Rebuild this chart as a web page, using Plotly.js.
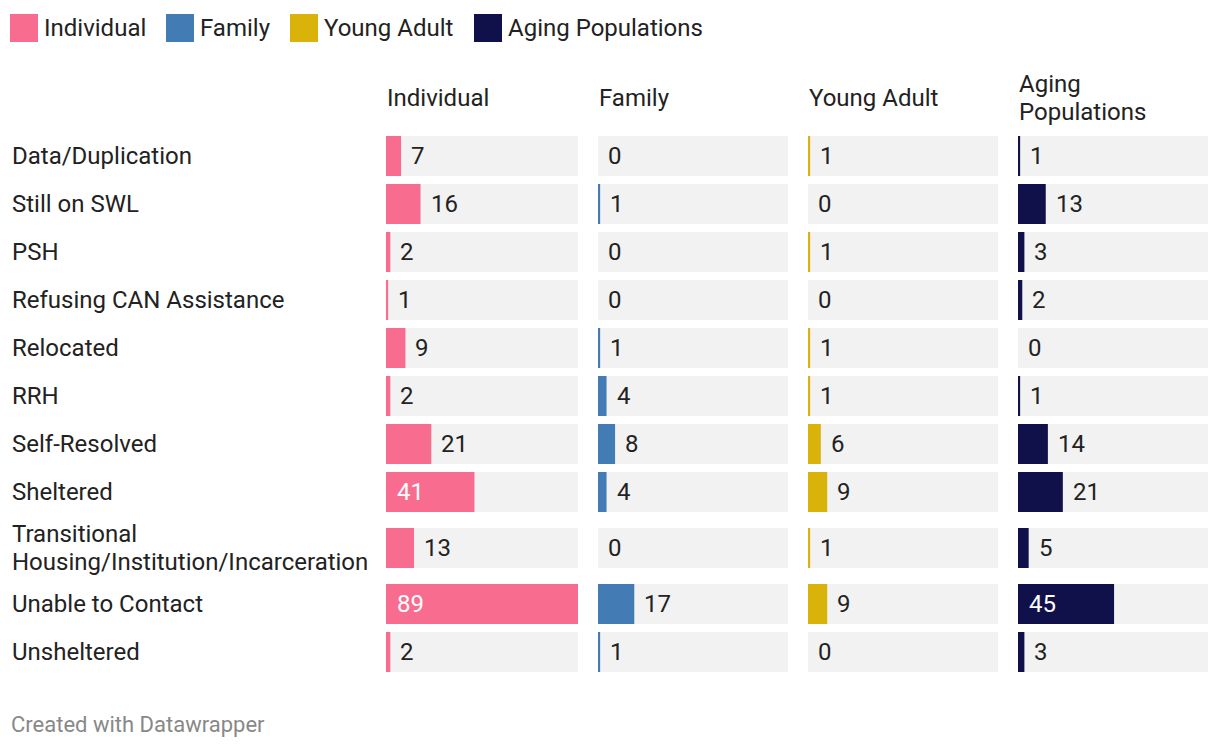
<!DOCTYPE html>
<html>
<head>
<meta charset="utf-8">
<script src="https://cdn.plot.ly/plotly-3.0.1.min.js"></script>
<style>
  html, body { margin: 0; padding: 0; background: #ffffff; }
  #chart { width: 1220px; height: 750px; }
</style>
</head>
<body>
<div id="chart"></div>
<script>
// ---------- data ----------
const categories = [
  "Data/Duplication",
  "Still on SWL",
  "PSH",
  "Refusing CAN Assistance",
  "Relocated",
  "RRH",
  "Self-Resolved",
  "Sheltered",
  "Transitional<br>Housing/Institution/Incarceration",
  "Unable to Contact",
  "Unsheltered"
];
const individual = [7, 16, 2, 1, 9, 2, 21, 41, 13, 89, 2];
const family     = [0, 1, 0, 0, 1, 4, 8, 4, 0, 17, 1];
const youngAdult = [1, 0, 1, 0, 1, 1, 6, 9, 1, 9, 0];
const aging      = [1, 13, 3, 2, 0, 1, 14, 21, 5, 45, 3];
const seriesNames  = ["Individual", "Family", "Young Adult", "Aging Populations"];
const columnTitles = ["Individual", "Family", "Young Adult", "Aging<br>Populations"];
const footerText = "Created with Datawrapper";

// ---------- styling / layout ----------
const W = 1220, H = 750;
const FONT = "Roboto, 'Open Sans', sans-serif";
const TEXT = "#222222";
const FS = 24;
const LINE = 28;
const colors = ["#f86d8f", "#437cb4", "#d9b20a", "#10104a"];
const bgColor = "#f2f2f2";
const series = [individual, family, youngAdult, aging];
const maxVal = Math.max(...series.flat());

const colLeft  = [386, 598, 808, 1018];
const colRight = [578, 788, 998, 1208];
const rowPitch = 48, barH = 40, extraPerLine = 16;
const plotTop = 132;

// row centres following the rule: taller slot for multi-line labels
const centers = [];
let cursor = 0;
categories.forEach(c => {
  const lines = c.split("<br>").length;
  const slot = rowPitch + (lines - 1) * extraPerLine;
  centers.push(cursor + slot / 2);
  cursor += slot;
});
const total = cursor;
const plotBottom = plotTop + total;

const traces = [];
const annotations = [];
const shapes = [];
const layout = {
  width: W, height: H,
  margin: {l: 0, r: 0, t: 0, b: 0},
  paper_bgcolor: "#ffffff",
  plot_bgcolor: "#ffffff",
  showlegend: false,
  barmode: "overlay",
  font: {family: FONT, color: TEXT, size: FS},
  yaxis: {
    domain: [1 - plotBottom / H, 1 - plotTop / H],
    range: [total, 0],
    visible: false, fixedrange: true
  }
};

// multi-line text as separate lines with fixed line spacing
function addLines(base, text) {
  const lines = text.split("<br>");
  lines.forEach((ln, k) => {
    annotations.push(Object.assign({}, base, {
      text: ln,
      yshift: -(k - (lines.length - 1) / 2) * LINE
    }));
  });
}

series.forEach((vals, i) => {
  const s = i === 0 ? "" : String(i + 1);
  layout["xaxis" + s] = {
    domain: [colLeft[i] / W, colRight[i] / W],
    range: [0, maxVal],
    visible: false, fixedrange: true, anchor: "y"
  };
  traces.push({
    type: "bar", orientation: "h",
    x: categories.map(() => maxVal), y: centers, width: barH,
    marker: {color: bgColor, line: {width: 0}},
    xaxis: "x" + s, yaxis: "y", hoverinfo: "skip"
  });
  traces.push({
    type: "bar", orientation: "h", name: seriesNames[i],
    x: vals, y: centers, width: barH,
    marker: {color: colors[i], line: {width: 0}},
    xaxis: "x" + s, yaxis: "y", hoverinfo: "skip"
  });
  vals.forEach((v, j) => {
    const inside = v / maxVal > 0.4;
    annotations.push({
      xref: "x" + s, yref: "y",
      x: inside ? 0 : v, y: centers[j],
      text: String(v), showarrow: false,
      xanchor: "left", yanchor: "middle",
      xshift: inside ? 9 : 8,
      font: {family: FONT, size: FS, color: inside ? "#ffffff" : TEXT}
    });
  });
  // column header
  addLines({
    xref: "paper", yref: "paper",
    x: (colLeft[i] - 1) / W, y: 1 - 98 / H,
    showarrow: false,
    xanchor: "left", yanchor: "middle", align: "left",
    font: {family: FONT, size: FS, color: TEXT}
  }, columnTitles[i]);
});

// row labels
categories.forEach((c, j) => {
  addLines({
    xref: "paper", yref: "y",
    x: 10 / W, y: centers[j],
    showarrow: false,
    xanchor: "left", yanchor: "middle", align: "left",
    font: {family: FONT, size: FS, color: TEXT}
  }, c);
});

// legend
const legendSquareX = [10, 166, 290, 474];
seriesNames.forEach((n, i) => {
  shapes.push({
    type: "rect", xref: "paper", yref: "paper",
    x0: legendSquareX[i] / W, x1: (legendSquareX[i] + 28) / W,
    y0: 1 - 42 / H, y1: 1 - 14 / H,
    fillcolor: colors[i], line: {width: 0}
  });
  annotations.push({
    xref: "paper", yref: "paper",
    x: (legendSquareX[i] + 32) / W, y: 1 - 28 / H,
    text: n, showarrow: false,
    xanchor: "left", yanchor: "middle",
    font: {family: FONT, size: FS, color: TEXT}
  });
});

// footer
annotations.push({
  xref: "paper", yref: "paper",
  x: 9 / W, y: 1 - 724 / H,
  text: footerText, showarrow: false,
  xanchor: "left", yanchor: "middle",
  font: {family: FONT, size: 22, color: "#888888"}
});

layout.annotations = annotations;
layout.shapes = shapes;

Plotly.newPlot("chart", traces, layout, {staticPlot: true, displayModeBar: false});
</script>
</body>
</html>
